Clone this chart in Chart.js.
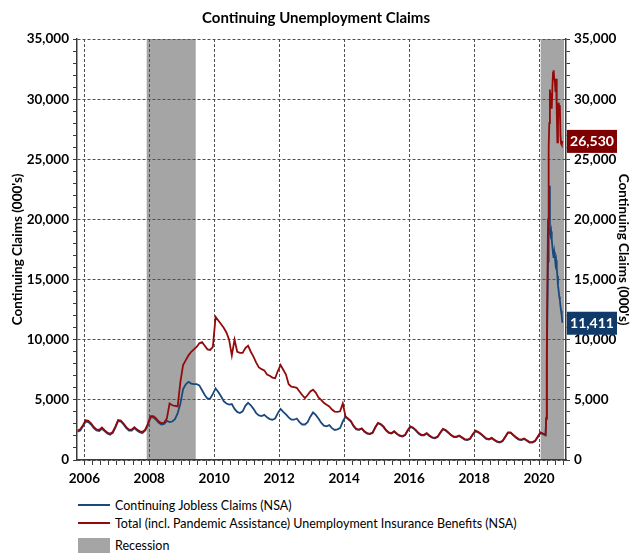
<!DOCTYPE html>
<html>
<head>
<meta charset="utf-8">
<title>Continuing Unemployment Claims</title>
<script src="https://cdn.jsdelivr.net/npm/chart.js@4.4.0/dist/chart.umd.min.js"></script>
<style>
  body { margin: 0; background: #fff; }
  #wrap { position: relative; width: 632px; height: 554px; font-family: Lato, 'DejaVu Sans', sans-serif; }
  #legend { position: absolute; left: 78px; top: 496px; font-size: 12.5px; color: #000; }
  .item { display: flex; align-items: center; height: 18px; white-space: nowrap; }
  .line { width: 32px; height: 0; border-top: 2px solid; margin-right: 5px; }
  .box { width: 32px; height: 15px; background: #a5a5a5; margin-right: 5px; }
</style>
</head>
<body>
<div id="wrap">
  <canvas id="myChart" width="632" height="490"></canvas>
  <div id="legend">
    <div class="item"><span class="line" style="border-color:#1b4a7a"></span>Continuing Jobless Claims (NSA)</div>
    <div class="item"><span class="line" style="border-color:#940a0a"></span>Total (incl. Pandemic Assistance) Unemployment Insurance Benefits (NSA)</div>
    <div class="item" style="margin-top:4px"><span class="box"></span>Recession</div>
  </div>
</div>
<script>
// monthly points start at Oct 2005 (one value per month, mid-month)
const monthlyStart = [2005, 10];

// Continuing jobless claims, NSA (000's)
const joblessMonthly = [
  2350, 2450, 2800,
  3200, 3150, 2950, 2650, 2450, 2400, 2600, 2400, 2200, 2100, 2250, 2700,
  3250, 3200, 2950, 2650, 2450, 2450, 2650, 2450, 2300, 2250, 2450, 2900,
  3550, 3550, 3350, 3100, 2950, 3000, 3250, 3150, 3200, 3400, 3900, 4700,
  5900, 6300, 6500, 6350, 6300, 6300, 6200, 5800, 5400, 5100, 5100, 5500,
  5950, 5650, 5300, 4900, 4700, 4600, 4650, 4250, 4000, 3900, 4050, 4500,
  4750, 4550, 4250, 3900, 3700, 3650, 3750, 3550, 3400, 3350, 3450, 3900,
  4250, 4000, 3800, 3550, 3350, 3350, 3450, 3150, 2950, 2950, 3150, 3600,
  3950, 3750, 3450, 3100, 2850, 2800, 2900, 2650, 2500, 2550, 2650, 3200,
  3600, 3400, 3200, 2800, 2550, 2500, 2600, 2350, 2200, 2150, 2250, 2700,
  3050, 2950, 2750, 2450, 2250, 2200, 2350, 2150, 2000, 1950, 2050, 2450,
  2750, 2650, 2450, 2200, 2050, 2050, 2200, 2000, 1850, 1800, 1900, 2250,
  2550, 2450, 2250, 2050, 1900, 1900, 2000, 1850, 1700, 1650, 1750, 2100,
  2400, 2300, 2150, 1950, 1750, 1700, 1800, 1650, 1500, 1450, 1550, 1900,
  2250, 2250, 2050, 1850, 1700, 1650, 1750, 1600, 1450, 1450, 1550, 1900,
  2250, 2150
];

// Total incl. pandemic assistance, NSA (000's)
const totalMonthly = [
  2450, 2550, 2900,
  3300, 3250, 3050, 2750, 2550, 2500, 2700, 2480, 2280, 2180, 2330, 2800,
  3330, 3280, 3030, 2730, 2530, 2530, 2730, 2530, 2380, 2330, 2530, 3000,
  3650, 3650, 3450, 3200, 3050, 3100, 3450, 4700, 4550, 4500, 4450, 6500,
  7900, 8300, 8700, 9000, 9200, 9400, 9700, 9800, 9500, 9200, 9150, 9400,
  11900, 11600, 11300, 11000, 10600, 10000, 8700, 10000, 9000, 8900, 8900, 9300,
  9500, 9000, 8600, 8100, 7700, 7550, 7450, 7100, 7000, 6850, 6800, 7400,
  7900, 7500, 7100, 6300, 6100, 6050, 6000, 5700, 5400, 5150, 5400, 5700,
  5850, 5600, 5200, 5000, 4750, 4600, 4450, 4200, 4030, 4000, 4050, 4700,
  3630, 3430, 3230, 2830, 2580, 2530, 2630, 2380, 2230, 2180, 2280, 2730,
  3090, 2990, 2790, 2490, 2290, 2240, 2390, 2190, 2040, 1990, 2090, 2490,
  2790, 2690, 2490, 2240, 2090, 2090, 2240, 2040, 1890, 1840, 1940, 2290,
  2590, 2490, 2290, 2090, 1940, 1940, 2040, 1890, 1740, 1690, 1790, 2140,
  2440, 2340, 2190, 1990, 1790, 1740, 1840, 1690, 1540, 1490, 1590, 1940,
  2290, 2290, 2090, 1890, 1740, 1690, 1790, 1640, 1490, 1490, 1590, 1940,
  2290, 2190
];

// 2020 weekly readings
const weeks2020 = [
  '2020-03-14', '2020-03-21', '2020-03-28', '2020-04-04', '2020-04-11', '2020-04-18', '2020-04-25',
  '2020-05-02', '2020-05-09', '2020-05-16', '2020-05-23', '2020-05-30', '2020-06-06', '2020-06-13',
  '2020-06-20', '2020-06-27', '2020-07-04', '2020-07-11', '2020-07-18', '2020-07-25', '2020-08-01',
  '2020-08-08', '2020-08-15', '2020-08-22', '2020-08-29', '2020-09-05', '2020-09-12', '2020-09-19'
];
const jobless2020 = [
  2050, 3400, 8000, 12500, 16500, 19000, 22800,
  19000, 18700, 19000, 18300, 17700, 17200, 16800,
  17300, 16900, 16300, 16600, 16000, 15300, 14500,
  14100, 13600, 13300, 12800, 12400, 12000, 11411
];
const total2020 = [
  2100, 3500, 9000, 15000, 20000, 26000, 28000,
  30800, 29400, 30500, 29200, 31000, 32200, 32400,
  31700, 31500, 30600, 31700, 29000, 26400, 27800,
  29700, 29400, 29500, 27000, 26300, 26200, 26530
];

// recessions (decimal years)
const recessionStart = [2007.92, 2020.05];
const recessionEnd = [2009.43, 2020.77];

// axis ticks
const yearLabels = [2006, 2008, 2010, 2012, 2014, 2016, 2018, 2020];
const claimTicks = [0, 5000, 10000, 15000, 20000, 25000, 30000, 35000];

const xMin = 2005.775, xMax = 2020.83;
const blue = '#1b4a7a', red = '#940a0a';
const gridColor = '#505050';
const axisColor = '#3a3a3a';
const fontFam = "Lato, 'DejaVu Sans', sans-serif";

Chart.defaults.font.family = fontFam;
Chart.defaults.color = '#000';

// build {x,y} points
function monthYear(i) {
  const m = monthlyStart[1] - 1 + i;
  return monthlyStart[0] + Math.floor(m / 12) + ((m % 12) + 0.5) / 12;
}
function dayYear(s) {
  const d = new Date(s + 'T12:00:00Z');
  const y = d.getUTCFullYear();
  const start = Date.UTC(y, 0, 1), end = Date.UTC(y + 1, 0, 1);
  return y + (d - start) / (end - start);
}
function buildPoints(monthly, weekly) {
  const pts = monthly.map((v, i) => ({ x: monthYear(i), y: v }));
  weekly.forEach((v, i) => pts.push({ x: dayYear(weeks2020[i]), y: v }));
  return pts;
}

// minor ticks: quarterly on x, every 1,000 on y
const xTicks = [];
for (let v = yearLabels[0]; v <= xMax; v += 0.25) xTicks.push(v);
const yTicks = [];
for (let v = 0; v <= 35000; v += 1000) yTicks.push(v);

const noColor = 'rgba(0,0,0,0)';
const fmt = v => claimTicks.includes(v) ? v.toLocaleString('en-US') : '';

// gray recession bars behind the grid
const recessionPlugin = {
  id: 'recession',
  beforeDraw(chart) {
    const { ctx, chartArea, scales } = chart;
    ctx.save();
    ctx.fillStyle = '#a5a5a5';
    recessionStart.forEach((s, i) => {
      const x1 = scales.x.getPixelForValue(s);
      const x2 = scales.x.getPixelForValue(recessionEnd[i]);
      ctx.fillRect(x1, chartArea.top, x2 - x1, chartArea.bottom - chartArea.top);
    });
    ctx.restore();
  }
};

// boxes with the latest value on the right axis
const lastValuePlugin = {
  id: 'lastValue',
  afterDraw(chart) {
    const { ctx, chartArea, scales } = chart;
    chart.data.datasets.forEach(ds => {
      const last = ds.data[ds.data.length - 1].y;
      const y = scales.y.getPixelForValue(last);
      const x = chartArea.right + 1;
      ctx.save();
      ctx.fillStyle = ds.boxColor;
      ctx.fillRect(x, y - 11, 50, 23);
      ctx.fillStyle = '#fff';
      ctx.font = 'bold 14px ' + fontFam;
      ctx.textAlign = 'center';
      ctx.textBaseline = 'middle';
      ctx.fillText(last.toLocaleString('en-US'), x + 25, y + 1);
      ctx.restore();
    });
  }
};

const yAxisBase = {
  type: 'linear',
  min: 0,
  max: 35000,
  afterBuildTicks: ax => { ax.ticks = yTicks.map(v => ({ value: v })); },
  ticks: { autoSkip: false, callback: fmt, font: { size: 13.5, weight: 'bold' }, padding: 4 },
  border: { display: true, color: axisColor, width: 1.5, dash: [3, 2] },
  title: {
    display: true,
    text: "Continuing Claims (000's)",
    font: { size: 13.5, weight: 'bold' }
  }
};

var ctx = document.getElementById('myChart').getContext('2d');
var myChart = new Chart(ctx, {
  type: 'line',
  data: {
    datasets: [
      {
        label: 'Continuing Jobless Claims (NSA)',
        data: buildPoints(joblessMonthly, jobless2020),
        borderColor: blue,
        boxColor: '#0f3a69',
        borderWidth: 1.8,
        pointRadius: 0,
        order: 1
      },
      {
        label: 'Total (incl. Pandemic Assistance) Unemployment Insurance Benefits (NSA)',
        data: buildPoints(totalMonthly, total2020),
        borderColor: red,
        boxColor: '#7f0000',
        borderWidth: 1.8,
        pointRadius: 0,
        order: 0
      }
    ]
  },
  options: {
    responsive: false,
    animation: false,
    layout: { padding: 0 },
    plugins: {
      legend: { display: false },
      tooltip: { enabled: false },
      title: {
        display: true,
        text: 'Continuing Unemployment Claims',
        font: { size: 15, weight: 'bold' },
        color: '#000',
        padding: { top: 9, bottom: 12 }
      }
    },
    scales: {
      x: {
        type: 'linear',
        min: xMin,
        max: xMax,
        afterBuildTicks: ax => { ax.ticks = xTicks.map(v => ({ value: v })); },
        ticks: {
          autoSkip: false,
          maxRotation: 0,
          callback: v => yearLabels.includes(v) ? String(v) : '',
          font: { size: 13.5, weight: 'bold' },
          padding: 6
        },
        grid: {
          color: c => (c.tick && yearLabels.includes(c.tick.value)) ? gridColor : noColor,
          tickColor: axisColor,
          tickLength: 5
        },
        border: { display: true, color: axisColor, width: 1.5, dash: [3, 2] },
        afterFit: s => { s.height = 30; }
      },
      y: Object.assign({}, yAxisBase, {
        position: 'left',
        grid: {
          color: c => (c.tick && claimTicks.includes(c.tick.value)) ? gridColor : noColor,
          tickColor: axisColor,
          tickLength: 4
        },
        title: Object.assign({}, yAxisBase.title, { padding: { top: 10, bottom: 0 } }),
        afterFit: s => { s.width = 77; }
      }),
      y2: Object.assign({}, yAxisBase, {
        position: 'right',
        display: true,
        grid: { drawOnChartArea: false, tickColor: axisColor, tickLength: 4 },
        title: Object.assign({}, yAxisBase.title, { padding: { top: 1, bottom: 0 } }),
        afterFit: s => { s.width = 66; }
      })
    }
  },
  plugins: [recessionPlugin, lastValuePlugin]
});
</script>
</body>
</html>
